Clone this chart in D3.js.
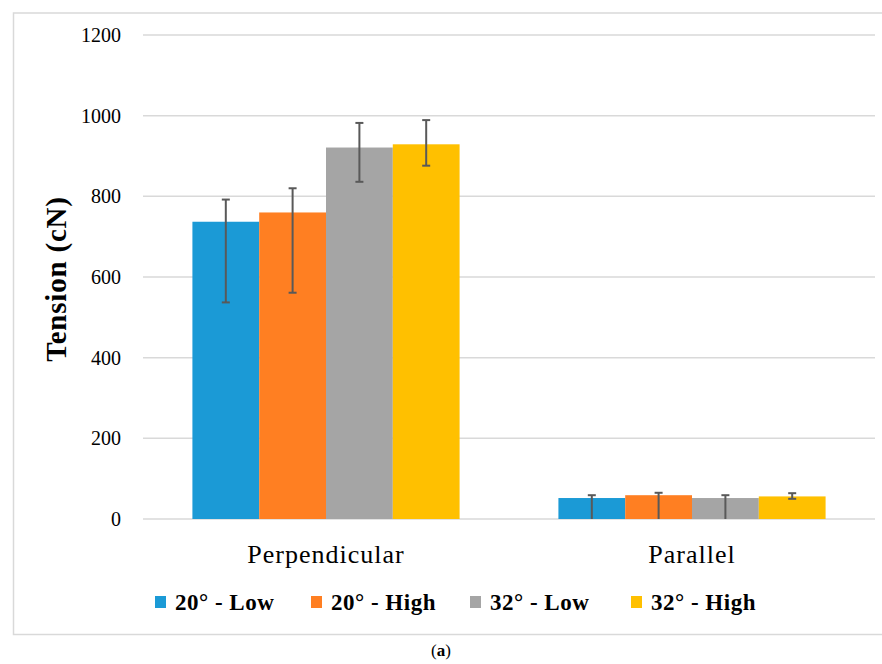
<!DOCTYPE html>
<html>
<head>
<meta charset="utf-8">
<script src="https://cdn.jsdelivr.net/npm/d3@7"></script>
<style>
  body { margin: 0; background: #fff; }
  svg text { font-family: "Liberation Serif", "DejaVu Serif", serif; }
</style>
</head>
<body>
<script>
// data
var categories = ["Perpendicular", "Parallel"];
var seriesNames = ["20° - Low", "20° - High", "32° - Low", "32° - High"];
var seriesColors = ["#1b9ad6", "#ff7f22", "#a5a5a5", "#ffc000"];
var perpValues = [737, 760, 921, 929];
var perpErrTop = [792, 820, 982, 989];
var perpErrLow = [537, 561, 836, 876];
var paraValues = [52, 59, 52, 56];
var paraErrTop = [59, 65, 59, 64];
var paraErrLow = [0, 0, 0, 50];
var yTicks = [0, 200, 400, 600, 800, 1000, 1200];

var values = [perpValues, paraValues];
var errTop = [perpErrTop, paraErrTop];
var errLow = [perpErrLow, paraErrLow];

var width = 882, height = 664;
var serif = "Liberation Serif, DejaVu Serif, serif";

var svg = d3.select("body").append("svg")
    .attr("width", width)
    .attr("height", height)
    .attr("font-family", serif);

// outer frame
svg.append("rect")
    .attr("x", 13.5).attr("y", 13)
    .attr("width", 900).attr("height", 621.5)
    .attr("fill", "#fff")
    .attr("stroke", "#d9d9d9")
    .attr("stroke-width", 1.5);

var x0 = d3.scaleBand()
    .domain(categories)
    .range([143, 875])
    .paddingInner(0.27)
    .paddingOuter(0.135);

var x1 = d3.scaleBand()
    .domain(seriesNames)
    .range([0, x0.bandwidth()]);

var y = d3.scaleLinear()
    .domain([0, 1200])
    .range([519, 35]);

// gridlines
svg.append("g")
  .selectAll("line")
  .data(yTicks)
  .enter().append("line")
    .attr("x1", 143).attr("x2", 875)
    .attr("y1", function(d) { return y(d); })
    .attr("y2", function(d) { return y(d); })
    .attr("stroke", "#d9d9d9")
    .attr("stroke-width", 1.5);

// y axis labels
var yAxis = svg.append("g")
    .attr("transform", "translate(143,0)")
    .call(d3.axisLeft(y).tickValues(yTicks).tickFormat(d3.format("d")).tickSize(0).tickPadding(22));
yAxis.attr("font-family", serif).attr("font-size", 20);
yAxis.select(".domain").remove();
yAxis.selectAll("text")
    .attr("fill", "#000");

// bars
var groups = svg.append("g")
  .selectAll("g")
  .data(categories)
  .enter().append("g")
    .attr("transform", function(d) { return "translate(" + x0(d) + ",0)"; });

groups.selectAll("rect")
  .data(function(d, i) {
      return seriesNames.map(function(s, j) {
          return {s: s, v: values[i][j], c: seriesColors[j]};
      });
  })
  .enter().append("rect")
    .attr("x", function(d) { return x1(d.s); })
    .attr("width", x1.bandwidth())
    .attr("y", function(d) { return y(d.v); })
    .attr("height", function(d) { return y(0) - y(d.v); })
    .attr("fill", function(d) { return d.c; });

// error bars
var eb = groups.selectAll("g.err")
  .data(function(d, i) {
      return seriesNames.map(function(s, j) {
          return {s: s, hi: errTop[i][j], lo: errLow[i][j]};
      });
  })
  .enter().append("g")
    .attr("class", "err")
    .attr("stroke", "#595959")
    .attr("stroke-width", 2);

function cx(d) { return x1(d.s) + x1.bandwidth() / 2; }

eb.append("line")
    .attr("x1", cx).attr("x2", cx)
    .attr("y1", function(d) { return y(d.hi); })
    .attr("y2", function(d) { return y(d.lo); });
eb.append("line")
    .attr("x1", function(d) { return cx(d) - 4; })
    .attr("x2", function(d) { return cx(d) + 4; })
    .attr("y1", function(d) { return y(d.hi); })
    .attr("y2", function(d) { return y(d.hi); });
eb.filter(function(d) { return d.lo > 0; }).append("line")
    .attr("x1", function(d) { return cx(d) - 4; })
    .attr("x2", function(d) { return cx(d) + 4; })
    .attr("y1", function(d) { return y(d.lo); })
    .attr("y2", function(d) { return y(d.lo); });

// category labels
svg.append("g")
  .selectAll("text")
  .data(categories)
  .enter().append("text")
    .attr("x", function(d) { return x0(d) + x0.bandwidth() / 2; })
    .attr("y", 563)
    .attr("text-anchor", "middle")
    .attr("font-size", 26)
    .attr("letter-spacing", 1)
    .text(function(d) { return d; });

// axis title
svg.append("text")
    .attr("transform", "translate(66,279) rotate(-90)")
    .attr("text-anchor", "middle")
    .attr("font-size", 29)
    .attr("font-weight", "bold")
    .attr("letter-spacing", 0.8)
    .text("Tension (cN)");

// legend
var legendX = [155, 311, 470, 631];
var legend = svg.append("g")
  .selectAll("g")
  .data(seriesNames)
  .enter().append("g")
    .attr("transform", function(d, i) { return "translate(" + legendX[i] + ",596)"; });
legend.append("rect")
    .attr("width", 11).attr("height", 12)
    .attr("fill", function(d, i) { return seriesColors[i]; });
legend.append("text")
    .attr("x", 20).attr("y", 14)
    .attr("font-size", 23)
    .attr("font-weight", "bold")
    .attr("letter-spacing", 0.5)
    .text(function(d) { return d; });

// caption
var cap = svg.append("text")
    .attr("x", 441).attr("y", 656)
    .attr("text-anchor", "middle")
    .attr("font-size", 17);
cap.append("tspan").text("(");
cap.append("tspan").attr("font-weight", "bold").text("a");
cap.append("tspan").text(")");
</script>
</body>
</html>
